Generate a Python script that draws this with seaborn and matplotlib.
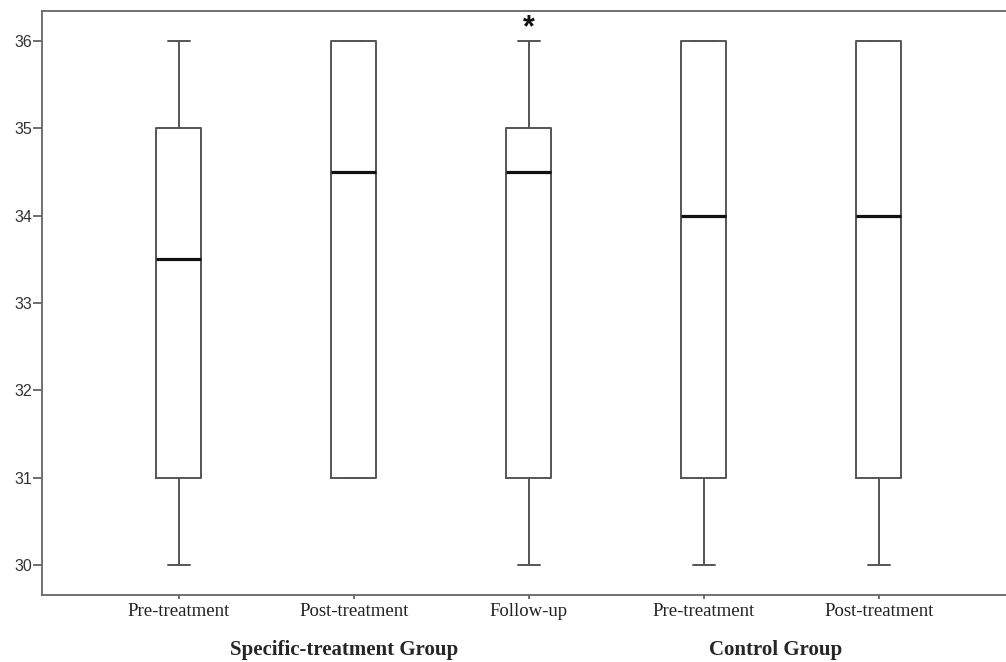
import pandas as pd
import numpy as np
import matplotlib
matplotlib.use('Agg')
import matplotlib.pyplot as plt
import seaborn as sns

# Valores (mínimo, Q1, mediana, Q3, máximo)
grupos = ['Pre-treatment', 'Post-treatment', 'Follow-up', 'Pre-treatment ', 'Post-treatment ']
rotulos = ['Pre-treatment', 'Post-treatment', 'Follow-up', 'Pre-treatment', 'Post-treatment']
minimos = [30, 31, 30, 30, 30]
q1 = [31, 31, 31, 31, 31]
medianas = [33.5, 34.5, 34.5, 34, 34]
q3 = [35, 36, 35, 36, 36]
maximos = [36, 36, 36, 36, 36]
yticks = [30, 31, 32, 33, 34, 35, 36]

# Tabela longa para o seaborn
linhas = []
for g, a, b, c, d, e in zip(grupos, minimos, q1, medianas, q3, maximos):
    for v in (a, b, c, d, e):
        linhas.append({'grupo': g, 'valor': v})
df = pd.DataFrame(linhas)

sns.set_style('white')
plt.rcParams['font.family'] = ['Liberation Sans', 'DejaVu Sans']

fig = plt.figure(figsize=(10.06, 6.62), dpi=100)
ax = fig.add_axes([0.0417, 0.1012, 0.9583, 0.8822])

cor = '#555555'
sns.boxplot(data=df, x='grupo', y='valor', order=grupos, ax=ax, width=0.257,
            whis=np.inf, fill=False, color=cor, linewidth=1.4,
            medianprops={'color': '#111111', 'linewidth': 2.3},
            showfliers=False)

ax.set_xlim(-0.783, 4.726)
ax.set_ylim(29.656, 36.344)
ax.set_yticks(yticks)
ax.set_yticklabels([str(t) for t in yticks], fontsize=11.5, color='#333333')
ax.set_xticks(range(len(rotulos)))
ax.set_xticklabels(rotulos, fontsize=13.5, family=['Liberation Serif'], color='#222222')
ax.set_xlabel('')
ax.set_ylabel('')
ax.tick_params(axis='y', direction='out', length=6.5, width=1.2, color=cor, pad=0.5, left=True)
ax.tick_params(axis='x', direction='out', length=3, width=1.2, color=cor, pad=3, bottom=True)

for lado in ['left', 'top', 'bottom']:
    ax.spines[lado].set_visible(True)
    ax.spines[lado].set_color('#666666')
    ax.spines[lado].set_linewidth(1.3)
ax.spines['right'].set_visible(False)

# Asterisco sobre o Follow-up
ax.text(2, 36.15, '*', ha='center', va='center', fontsize=22, fontweight='bold', color='#111111')

# Rótulos dos grupos
ax.text(0.943, -0.094, 'Specific-treatment Group', transform=ax.get_xaxis_transform(),
        ha='center', va='center', fontsize=15, fontweight='bold', family=['Liberation Serif'])
ax.text(3.41, -0.094, 'Control Group', transform=ax.get_xaxis_transform(),
        ha='center', va='center', fontsize=15, fontweight='bold', family=['Liberation Serif'])

plt.savefig('out.png', dpi=100)
